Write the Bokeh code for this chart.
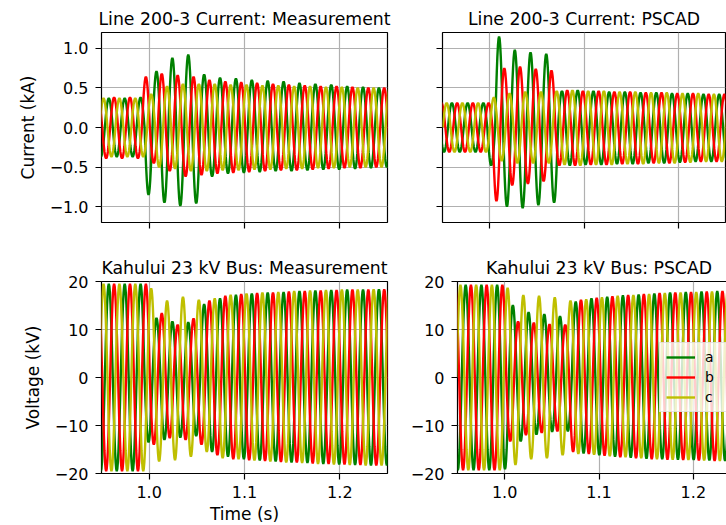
import numpy as np
from bokeh.plotting import figure
from bokeh.layouts import column, row
from bokeh.models import FixedTicker, Range1d, Legend, LegendItem
from bokeh.embed import file_html
from bokeh.resources import INLINE

# ---------------- data ----------------
FREQ = 60.0                      # Hz
HALF = 1.0 / (2 * FREQ)          # half-cycle length (s)
PHASE_LAG = [0.0, 1 / 180, 2 / 180]   # a, b, c peak lag (s)

x_ticks = [1.0, 1.1, 1.2]
x_tick_labels = ["1.0", "1.1", "1.2"]
cur_ticks = [-1.0, -0.5, 0.0, 0.5, 1.0]
cur_tick_labels = ["\u22121.0", "\u22120.5", "0.0", "0.5", "1.0"]
vol_ticks = [-20, -10, 0, 10, 20]
vol_tick_labels = ["\u221220", "\u221210", "0", "10", "20"]

phase_names = ["a", "b", "c"]
phase_colors = ["#008000", "#ff0000", "#bfbf00"]

# time (s) of the first half-cycle peak of phase a in each panel
t0_cur_meas = 0.941
t0_cur_pscad = 0.9433
t0_vol_meas = 0.941
t0_vol_pscad = 0.942

# signed peak value of each successive half-cycle
cur_meas_a = [.37, -.37, .37, -.37, .37, -.37, .38, -.85, .71, -.95, .88, -.99, .92, -.96,
              .67, -.62, .63, -.58, .62, -.57, .60, -.56, .59, -.55, .58, -.55, .56, -.54,
              .55, -.53, .54, -.53, .52, -.52, .51, -.51, .50, -.50, .50]
cur_meas_b = [.38, -.39, .38, -.39, .38, -.39, .64, -.45, .68, -.55, .66, -.62, .64, -.60,
              .60, -.58, .58, -.57, .57, -.56, .56, -.55, .55, -.54, .54, -.54, .53, -.53,
              .52, -.52, .52, -.51, .51, -.51, .50, -.50, .50, -.50, .50]
cur_meas_c = [.37, -.37, .37, -.37, .37, -.37, .42, -.50, .52, -.52, .55, -.55, .55, -.55,
              .55, -.54, .54, -.54, .54, -.53, .53, -.53, .53, -.52, .52, -.52, .52, -.51,
              .51, -.51, .51, -.50, .50, -.50, .50, -.50, .50, -.50, .50]

cur_pscad_a = [.31, -.31, .31, -.31, .31, -.31, .31, -.48, 1.15, -1.0, .98, -1.02, .95, -.98,
               .93, -.95, .46, -.48, .47, -.47, .46, -.47, .45, -.46, .45, -.46, .44, -.45,
               .44, -.45, .43, -.44, .43, -.43, .42, -.43, .42, -.42, .42]
cur_pscad_b = [.31, -.31, .31, -.31, .31, -.31, .31, -.93, .75, -.73, .77, -.71, .74, -.68,
               .72, -.48, .47, -.48, .46, -.47, .46, -.47, .45, -.46, .45, -.46, .44, -.45,
               .44, -.45, .43, -.44, .43, -.43, .42, -.43, .42, -.42, .42]
cur_pscad_c = [.31, -.31, .31, -.31, .31, -.31, .38, -.42, .43, -.45, .45, -.45, .45, -.45,
               .46, -.47, .47, -.48, .46, -.47, .46, -.47, .45, -.46, .45, -.46, .44, -.45,
               .44, -.45, .43, -.44, .43, -.43, .42, -.43, .42, -.42, .42]

vol_meas_a = [19.5, -19.5, 19.5, -19.5, 19.5, -19.5, 19.5, -13.5, 12.4, -13.0, 11.7, -12.5, 11.5, -12.2,
              15.3, -15.5, 16.5, -16.5, 17.2, -17.0, 17.5, -17.3, 17.7, -17.5, 17.8, -17.7, 18.0, -17.8,
              18.1, -18.0, 18.2, -18.1, 18.3, -18.2, 18.3, -18.3, 18.4, -18.3, 18.4]
vol_meas_b = [19.5, -19.5, 19.5, -19.5, 19.5, -19.5, 19.5, -14.0, 13.4, -12.6, 11.0, -13.0, 12.3, -14.0,
              16.0, -16.2, 17.0, -17.0, 17.4, -17.2, 17.6, -17.4, 17.7, -17.6, 17.9, -17.7, 18.0, -17.9,
              18.1, -18.0, 18.2, -18.1, 18.3, -18.2, 18.3, -18.3, 18.4, -18.3, 18.4]
vol_meas_c = [19.5, -19.5, 19.5, -19.5, 19.5, -19.5, 18.6, -17.5, 16.0, -17.2, 16.8, -16.5, 16.2, -15.5,
              16.5, -16.8, 17.2, -17.0, 17.5, -17.3, 17.7, -17.5, 17.8, -17.7, 18.0, -17.8, 18.1, -18.0,
              18.2, -18.1, 18.3, -18.2, 18.3, -18.3, 18.4, -18.3, 18.4, -18.4, 18.4]

vol_pscad_a = [19.3, -19.3, 19.3, -19.3, 19.3, -19.3, 19.3, -19.1, 15.1, -13.3, 13.6, -11.9, 13.2, -11.3,
               12.8, -11.2, 15.8, -15.8, 16.5, -16.2, 16.8, -16.5, 17.1, -16.7, 17.3, -16.9, 17.5, -17.0,
               17.7, -17.1, 17.8, -17.2, 17.9, -17.3, 18.0, -17.4, 18.1, -17.5, 18.2]
vol_pscad_b = [19.3, -19.3, 19.3, -19.3, 19.3, -19.3, 19.3, -13.3, 11.7, -12.0, 11.4, -11.5, 11.1, -11.2,
               11.0, -15.5, 16.2, -15.9, 16.6, -16.3, 16.9, -16.6, 17.2, -16.8, 17.4, -17.0, 17.6, -17.1,
               17.7, -17.2, 17.8, -17.3, 17.9, -17.4, 18.0, -17.5, 18.1, -17.5, 18.2]
vol_pscad_c = [19.3, -19.3, 19.3, -19.3, 19.3, -19.3, 18.7, -18.2, 17.2, -17.0, 17.0, -16.8, 16.7, -16.2,
               16.0, -15.9, 16.3, -16.1, 16.7, -16.4, 17.0, -16.6, 17.2, -16.8, 17.4, -17.0, 17.6, -17.1,
               17.7, -17.2, 17.8, -17.3, 17.9, -17.4, 18.0, -17.5, 18.1, -17.5, 18.2]

# ---------------- helpers ----------------
FONT = "DejaVu Sans"


def half_cycle_curve(t_first, peaks, n=14):
    """Join the read half-cycle peaks with sinusoidal lobes."""
    ts, ys = [], []
    for k, v in enumerate(peaks):
        tc = t_first + k * HALF
        tt = np.linspace(tc - HALF / 2, tc + HALF / 2, n, endpoint=False)
        ts.append(tt)
        ys.append(v * np.cos(2 * np.pi * FREQ * (tt - tc)))
    t_end = t_first + (len(peaks) - 0.5) * HALF
    ts.append(np.array([t_end]))
    ys.append(np.array([0.0]))
    return np.concatenate(ts), np.concatenate(ys)


def make_fig(title, yr, yticks, ylabels, show_x, show_y, ylabel, xlabel,
             left, right, top, bottom, fw, fh):
    p = figure(frame_width=fw, frame_height=fh,
               x_range=Range1d(0.95, 1.25), y_range=Range1d(*yr),
               output_backend="svg", toolbar_location=None,
               min_border_left=left, min_border_right=right,
               min_border_top=top, min_border_bottom=bottom,
               title=title)
    p.title.text_font = FONT
    p.title.text_font_size = "17.3px"
    p.title.text_font_style = "normal"
    p.title.align = "center"
    p.title.text_color = "#000000"
    p.title.standoff = 7
    p.outline_line_color = "#000000"
    p.outline_line_width = 1.2
    p.outline_line_alpha = 1.0
    p.background_fill_color = "#ffffff"
    p.border_fill_color = "#ffffff"

    p.xaxis.ticker = FixedTicker(ticks=x_ticks)
    p.yaxis.ticker = FixedTicker(ticks=yticks)
    p.xaxis.major_label_overrides = {v: (s if show_x else "") for v, s in zip(x_ticks, x_tick_labels)}
    p.yaxis.major_label_overrides = {v: (s if show_y else "") for v, s in zip(yticks, ylabels)}
    for ax in (p.xaxis, p.yaxis):
        ax.axis_line_color = None
        ax.major_tick_out = 6
        ax.major_tick_in = 0
        ax.major_tick_line_color = "#000000"
        ax.major_tick_line_width = 1.2
        ax.minor_tick_line_color = None
        ax.major_label_text_font = FONT
        ax.major_label_text_font_size = "16px"
        ax.major_label_text_color = "#000000"
        ax.axis_label_text_font = FONT
        ax.axis_label_text_font_size = "17px"
        ax.axis_label_text_font_style = "normal"
        ax.axis_label_text_color = "#000000"
    p.xaxis.major_label_standoff = 6
    p.yaxis.major_label_standoff = 7
    p.xaxis.axis_label_standoff = 3
    p.yaxis.axis_label_standoff = 9
    if ylabel:
        p.yaxis.axis_label = ylabel
    if xlabel:
        p.xaxis.axis_label = xlabel
    p.grid.grid_line_color = "#b0b0b0"
    p.grid.grid_line_width = 1.2
    return p


def add_phases(p, t0, series):
    rends = []
    for lag, peaks, col in zip(PHASE_LAG, series, phase_colors):
        t, y = half_cycle_curve(t0 + lag, peaks)
        rends.append(p.line(t, y, line_color=col, line_width=2.4))
    return rends


# ---------------- figures ----------------
TOP_FH, BOT_FH = 190, 192
L_FW, R_FW = 286, 283

p_tl = make_fig("Line 200-3 Current: Measurement", (-1.2, 1.2), cur_ticks, cur_tick_labels,
                False, True, "Current (kA)", None, 101, 20, 32, 30, L_FW, TOP_FH)
p_tr = make_fig("Line 200-3 Current: PSCAD", (-1.2, 1.2), cur_ticks, cur_tick_labels,
                False, False, None, None, 35, 1, 32, 30, R_FW, TOP_FH)
p_bl = make_fig("Kahului 23 kV Bus: Measurement", (-20, 20), vol_ticks, vol_tick_labels,
                True, True, "Voltage (kV)", "Time (s)", 101, 20, 28, 52, L_FW, BOT_FH)
p_br = make_fig("Kahului 23 kV Bus: PSCAD", (-20, 20), vol_ticks, vol_tick_labels,
                True, True, None, None, 35, 1, 28, 52, R_FW, BOT_FH)

add_phases(p_tl, t0_cur_meas, [cur_meas_a, cur_meas_b, cur_meas_c])
add_phases(p_tr, t0_cur_pscad, [cur_pscad_a, cur_pscad_b, cur_pscad_c])
add_phases(p_bl, t0_vol_meas, [vol_meas_a, vol_meas_b, vol_meas_c])
r_br = add_phases(p_br, t0_vol_pscad, [vol_pscad_a, vol_pscad_b, vol_pscad_c])

legend = Legend(items=[LegendItem(label=n, renderers=[r]) for n, r in zip(phase_names, r_br)],
                location="right")
legend.label_text_font = FONT
legend.label_text_font_size = "14px"
legend.label_text_color = "#000000"
legend.glyph_width = 29
legend.glyph_height = 16
legend.label_height = 16
legend.label_standoff = 10
legend.spacing = 4
legend.padding = 6
legend.margin = 8
legend.border_line_color = "#cccccc"
legend.border_line_width = 1
legend.background_fill_color = "#ffffff"
legend.background_fill_alpha = 0.8
p_br.add_layout(legend)

layout = column(row(p_tl, p_tr), row(p_bl, p_br))

open("out.html", "w").write(file_html(layout, INLINE))
